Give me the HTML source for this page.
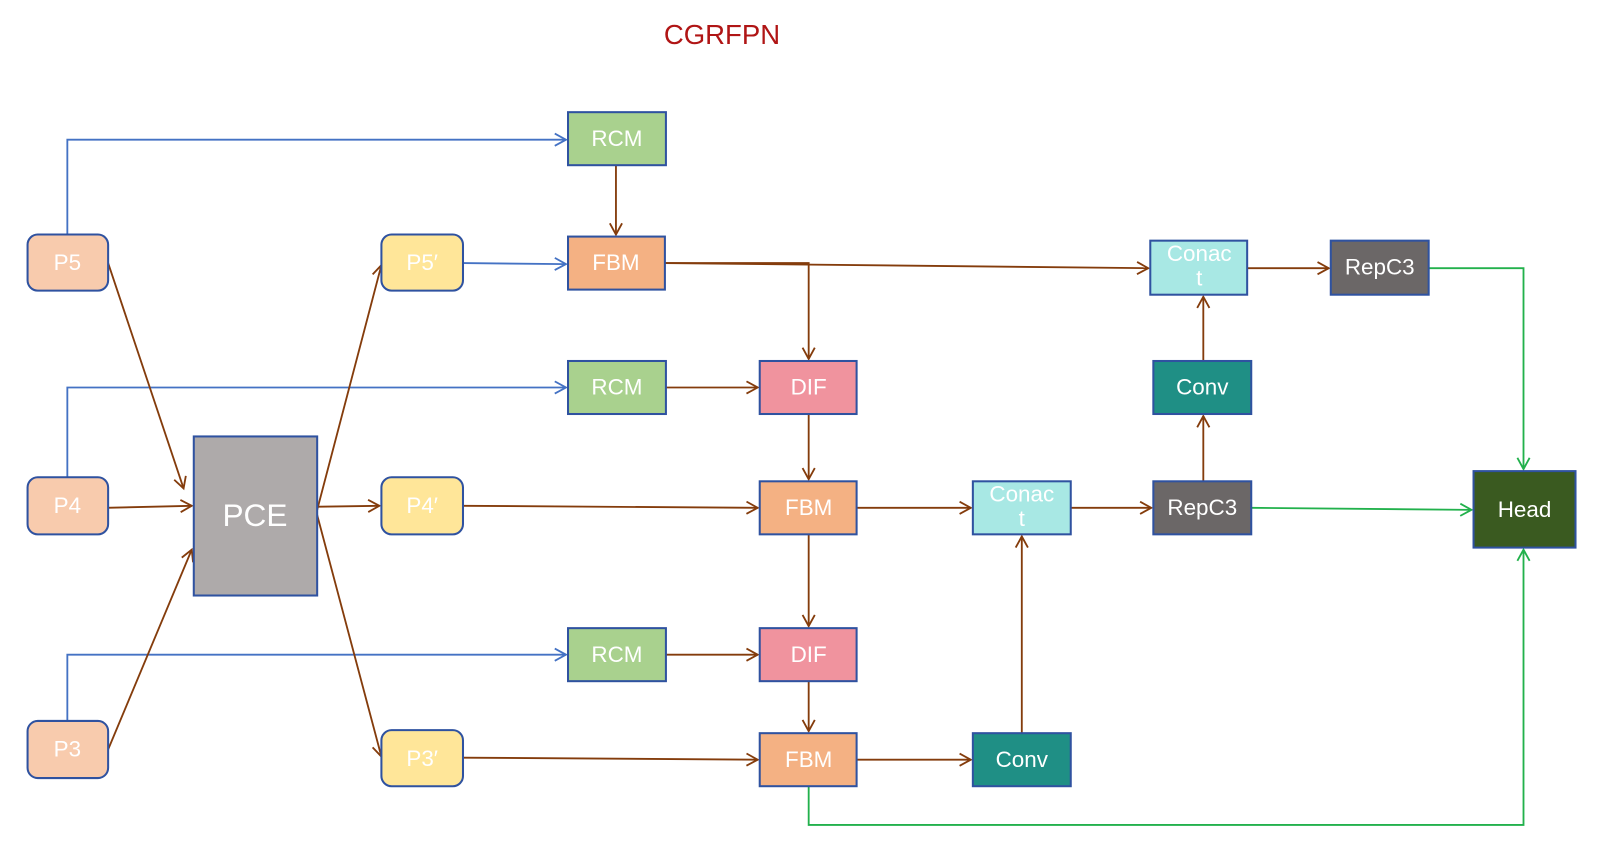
<!DOCTYPE html>
<html><head><meta charset="utf-8"><style>html,body{margin:0;padding:0;background:#fff}svg{display:block}</style></head><body>
<svg width="1599" height="853" viewBox="0 0 1568 836.5" xmlns="http://www.w3.org/2000/svg" font-family="'Liberation Sans', sans-serif">
<defs>
<marker id="ab" markerWidth="14" markerHeight="14" refX="12" refY="7" orient="auto" markerUnits="userSpaceOnUse"><path d="M1,1 L12,7 L1,13" fill="none" stroke="#843c0c" stroke-width="1.8"/></marker>
<marker id="bl" markerWidth="14" markerHeight="14" refX="12" refY="7" orient="auto" markerUnits="userSpaceOnUse"><path d="M1,1 L12,7 L1,13" fill="none" stroke="#4472c4" stroke-width="1.8"/></marker>
<marker id="gr" markerWidth="14" markerHeight="14" refX="12" refY="7" orient="auto" markerUnits="userSpaceOnUse"><path d="M1,1 L12,7 L1,13" fill="none" stroke="#22b14c" stroke-width="1.8"/></marker>
</defs>
<text x="708" y="43" text-anchor="middle" font-size="27" fill="#b01515">CGRFPN</text>
<g fill="none" stroke-width="1.8">
<g stroke="#4472c4" marker-end="url(#bl)">
<path d="M66,230 V137 H555"/>
<path d="M66,468 V380 H555"/>
<path d="M66,707 V642 H555"/>
<path d="M454,258 L555,259"/>
</g>
<g stroke="#843c0c" marker-end="url(#ab)">
<path d="M604,162 L604,230"/>
<path d="M652,258 H793 V352"/>
<path d="M652,258 L1126,263"/>
<path d="M106,258 L180,479"/>
<path d="M104,498 L188,496"/>
<path d="M106,735 L188,539"/>
<path d="M311,500 L374,260"/>
<path d="M305,497 L372,496"/>
<path d="M311,505 L374,742"/>
<path d="M454,496 L743,498"/>
<path d="M653,380 L743,380"/>
<path d="M793,406 L793,470"/>
<path d="M840,498 L952,498"/>
<path d="M793,524 L793,614"/>
<path d="M653,642 L743,642"/>
<path d="M793,668 L793,717"/>
<path d="M454,743 L743,745"/>
<path d="M840,745 L952,745"/>
<path d="M1002,719 L1002,526"/>
<path d="M1050,498 L1129,498"/>
<path d="M1180,472 L1180,408"/>
<path d="M1180,354 L1180,291"/>
<path d="M1223,263 L1303,263"/>
</g>
<g stroke="#22b14c" marker-end="url(#gr)">
<path d="M1401,263 H1494 V460"/>
<path d="M1227,498 L1443,500"/>
<path d="M793,771 V809 H1494 V539"/>
</g>
</g>
<g stroke="#2f52a0" stroke-width="2">
<rect x="27" y="230" width="79" height="55" rx="10" fill="#f8cbad"/>
<rect x="27" y="468" width="79" height="56" rx="10" fill="#f8cbad"/>
<rect x="27" y="707" width="79" height="56" rx="10" fill="#f8cbad"/>
<rect x="374" y="230" width="80" height="55" rx="10" fill="#ffe699"/>
<rect x="374" y="468" width="80" height="56" rx="10" fill="#ffe699"/>
<rect x="374" y="716" width="80" height="55" rx="10" fill="#ffe699"/>
<rect x="190" y="428" width="121" height="156" fill="#aeaaaa"/>
<rect x="557" y="110" width="96" height="52" fill="#a9d18e"/>
<rect x="557" y="354" width="96" height="52" fill="#a9d18e"/>
<rect x="557" y="616" width="96" height="52" fill="#a9d18e"/>
<rect x="557" y="232" width="95" height="52" fill="#f4b183"/>
<rect x="745" y="472" width="95" height="52" fill="#f4b183"/>
<rect x="745" y="719" width="95" height="52" fill="#f4b183"/>
<rect x="745" y="354" width="95" height="52" fill="#f0939e"/>
<rect x="745" y="616" width="95" height="52" fill="#f0939e"/>
<rect x="1128" y="236" width="95" height="53" fill="#a8e8e4"/>
<rect x="954" y="472" width="96" height="52" fill="#a8e8e4"/>
<rect x="1131" y="354" width="96" height="52" fill="#1f8f85"/>
<rect x="954" y="719" width="96" height="52" fill="#1f8f85"/>
<rect x="1305" y="236" width="96" height="53" fill="#6b6767"/>
<rect x="1131" y="472" width="96" height="52" fill="#6b6767"/>
<rect x="1445" y="462" width="100" height="75" fill="#3a5a20"/>
</g>
<g fill="#fff" font-size="22" text-anchor="middle">
<text x="66" y="265">P5</text>
<text x="66" y="503">P4</text>
<text x="66" y="742">P3</text>
<text x="414" y="265">P5′</text>
<text x="414" y="503">P4′</text>
<text x="414" y="751">P3′</text>
<text x="250" y="516" font-size="31">PCE</text>
<text x="605" y="143">RCM</text>
<text x="605" y="387">RCM</text>
<text x="605" y="649">RCM</text>
<text x="604" y="265">FBM</text>
<text x="793" y="505">FBM</text>
<text x="793" y="752">FBM</text>
<text x="793" y="387">DIF</text>
<text x="793" y="649">DIF</text>
<text x="1176" y="256">Conac</text>
<text x="1176" y="280">t</text>
<text x="1002" y="492">Conac</text>
<text x="1002" y="516">t</text>
<text x="1179" y="387">Conv</text>
<text x="1002" y="752">Conv</text>
<text x="1353" y="269">RepC3</text>
<text x="1179" y="505">RepC3</text>
<text x="1495" y="507">Head</text>
</g>
</svg>
</body></html>
